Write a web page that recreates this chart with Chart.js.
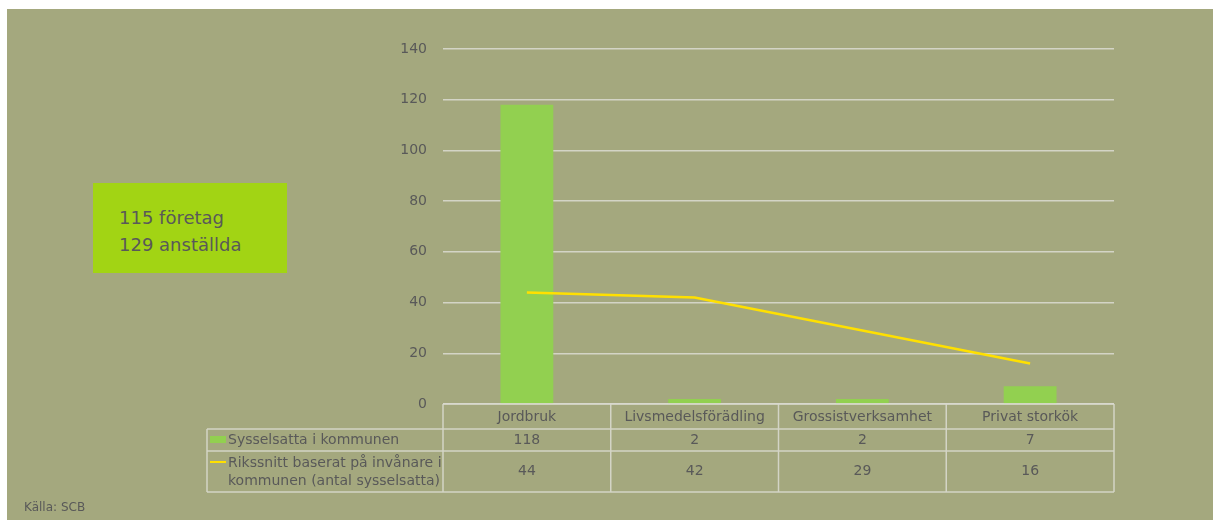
<!DOCTYPE html>
<html>
<head>
<meta charset="utf-8">
<script src="https://cdn.jsdelivr.net/npm/chart.js@4/dist/chart.umd.min.js"></script>
<style>
  html, body { margin: 0; padding: 0; background: #ffffff; width: 1213px; height: 520px; overflow: hidden; }
  #frame { position: absolute; left: 7px; top: 9px; width: 1206px; height: 511px; background: #A4A87E; }
  #c { position: absolute; left: 0; top: 0; }
  #box { position: absolute; left: 86px; top: 174px; width: 194px; height: 90px; background: #A2D414;
         font-family: "DejaVu Sans", sans-serif; font-size: 18px; color: #595959; line-height: 27px; box-sizing: border-box; padding: 21px 0 0 26px; }
  #src { position: absolute; left: 17px; top: 491px; font-family: "DejaVu Sans", sans-serif; font-size: 12px; color: #595959; }
</style>
</head>
<body>
<div id="frame">
  <canvas id="c" width="1206" height="511"></canvas>
  <div id="box">115 företag<br>129 anställda</div>
  <div id="src">Källa: SCB</div>
</div>
<script>
const categories = ["Jordbruk", "Livsmedelsförädling", "Grossistverksamhet", "Privat storkök"];
const sysselsatta = [118, 2, 2, 7];
const riksnitt = [44, 42, 29, 16];
const seriesNames = ["Sysselsatta i kommunen", ["Rikssnitt baserat på invånare i", "kommunen (antal sysselsatta)"]];
const yTicks = [0, 20, 40, 60, 80, 100, 120, 140];

const FONT = '"DejaVu Sans", sans-serif';
const TEXT = '#595959';
const GRID = 'rgba(220,220,210,0.85)';
const BAR = '#92D050';
const LINE = '#FFE000';

const tablePlugin = {
  id: 'dataTable',
  afterDraw(chart) {
    const ctx = chart.ctx;
    const x = chart.scales.x;
    const area = chart.chartArea;
    const top = area.bottom;
    const rowH = [25, 22, 41];
    const y1 = top + rowH[0], y2 = y1 + rowH[1], y3 = y2 + rowH[2];
    const left = area.left, right = area.right;
    const legLeft = left - 236;
    const catW = (right - left) / categories.length;
    ctx.save();
    ctx.strokeStyle = GRID;
    ctx.lineWidth = 1.5;
    ctx.beginPath();
    ctx.moveTo(left, top); ctx.lineTo(right, top);
    [y1, y2, y3].forEach(y => { ctx.moveTo(legLeft, y); ctx.lineTo(right, y); });
    ctx.moveTo(legLeft, y1); ctx.lineTo(legLeft, y3);
    for (let i = 0; i <= categories.length; i++) {
      const xx = left + i * catW;
      ctx.moveTo(xx, top); ctx.lineTo(xx, y3);
    }
    ctx.stroke();

    ctx.fillStyle = TEXT;
    ctx.font = '14px ' + FONT;
    ctx.textAlign = 'center';
    ctx.textBaseline = 'middle';
    categories.forEach((c, i) => {
      const cx = x.getPixelForValue(i);
      ctx.fillText(c, cx, top + rowH[0] / 2 + 1);
      ctx.fillText(String(sysselsatta[i]), cx, y1 + rowH[1] / 2);
      ctx.fillText(String(riksnitt[i]), cx, y2 + rowH[2] / 2);
    });
    // legend
    ctx.textAlign = 'left';
    ctx.fillStyle = BAR;
    ctx.fillRect(legLeft + 3, y1 + 7, 16, 7);
    ctx.fillStyle = TEXT;
    ctx.fillText(seriesNames[0], legLeft + 21, y1 + rowH[1] / 2);
    ctx.strokeStyle = LINE;
    ctx.lineWidth = 2;
    ctx.beginPath();
    ctx.moveTo(legLeft + 3, y2 + 11); ctx.lineTo(legLeft + 19, y2 + 11);
    ctx.stroke();
    ctx.fillText(seriesNames[1][0], legLeft + 21, y2 + 12);
    ctx.fillText(seriesNames[1][1], legLeft + 21, y2 + 30);
    ctx.restore();
  }
};

new Chart(document.getElementById('c'), {
  data: {
    labels: categories,
    datasets: [
      { type: 'line', label: 'Rikssnitt baserat på invånare i kommunen (antal sysselsatta)', data: riksnitt,
        borderColor: LINE, borderWidth: 2.5, pointRadius: 0, tension: 0, order: 0 },
      { type: 'bar', label: 'Sysselsatta i kommunen', data: sysselsatta, backgroundColor: BAR,
        categoryPercentage: 1, barPercentage: 0.315, order: 1 }
    ]
  },
  options: {
    responsive: false,
    animation: false,
    layout: { padding: { top: 40, bottom: 116, right: 99, left: 0 } },
    plugins: { legend: { display: false }, tooltip: { enabled: false } },
    scales: {
      x: { display: false },
      y: {
        min: 0, max: 140,
        afterFit(s) { s.width = 436; },
        afterBuildTicks(s) { s.ticks = yTicks.map(v => ({ value: v })); },
        border: { display: false },
        grid: { color: GRID, lineWidth: 1.5, drawTicks: false },
        ticks: { color: TEXT, font: { family: FONT, size: 14 }, padding: 16 }
      }
    }
  },
  plugins: [tablePlugin]
});
</script>
</body>
</html>
